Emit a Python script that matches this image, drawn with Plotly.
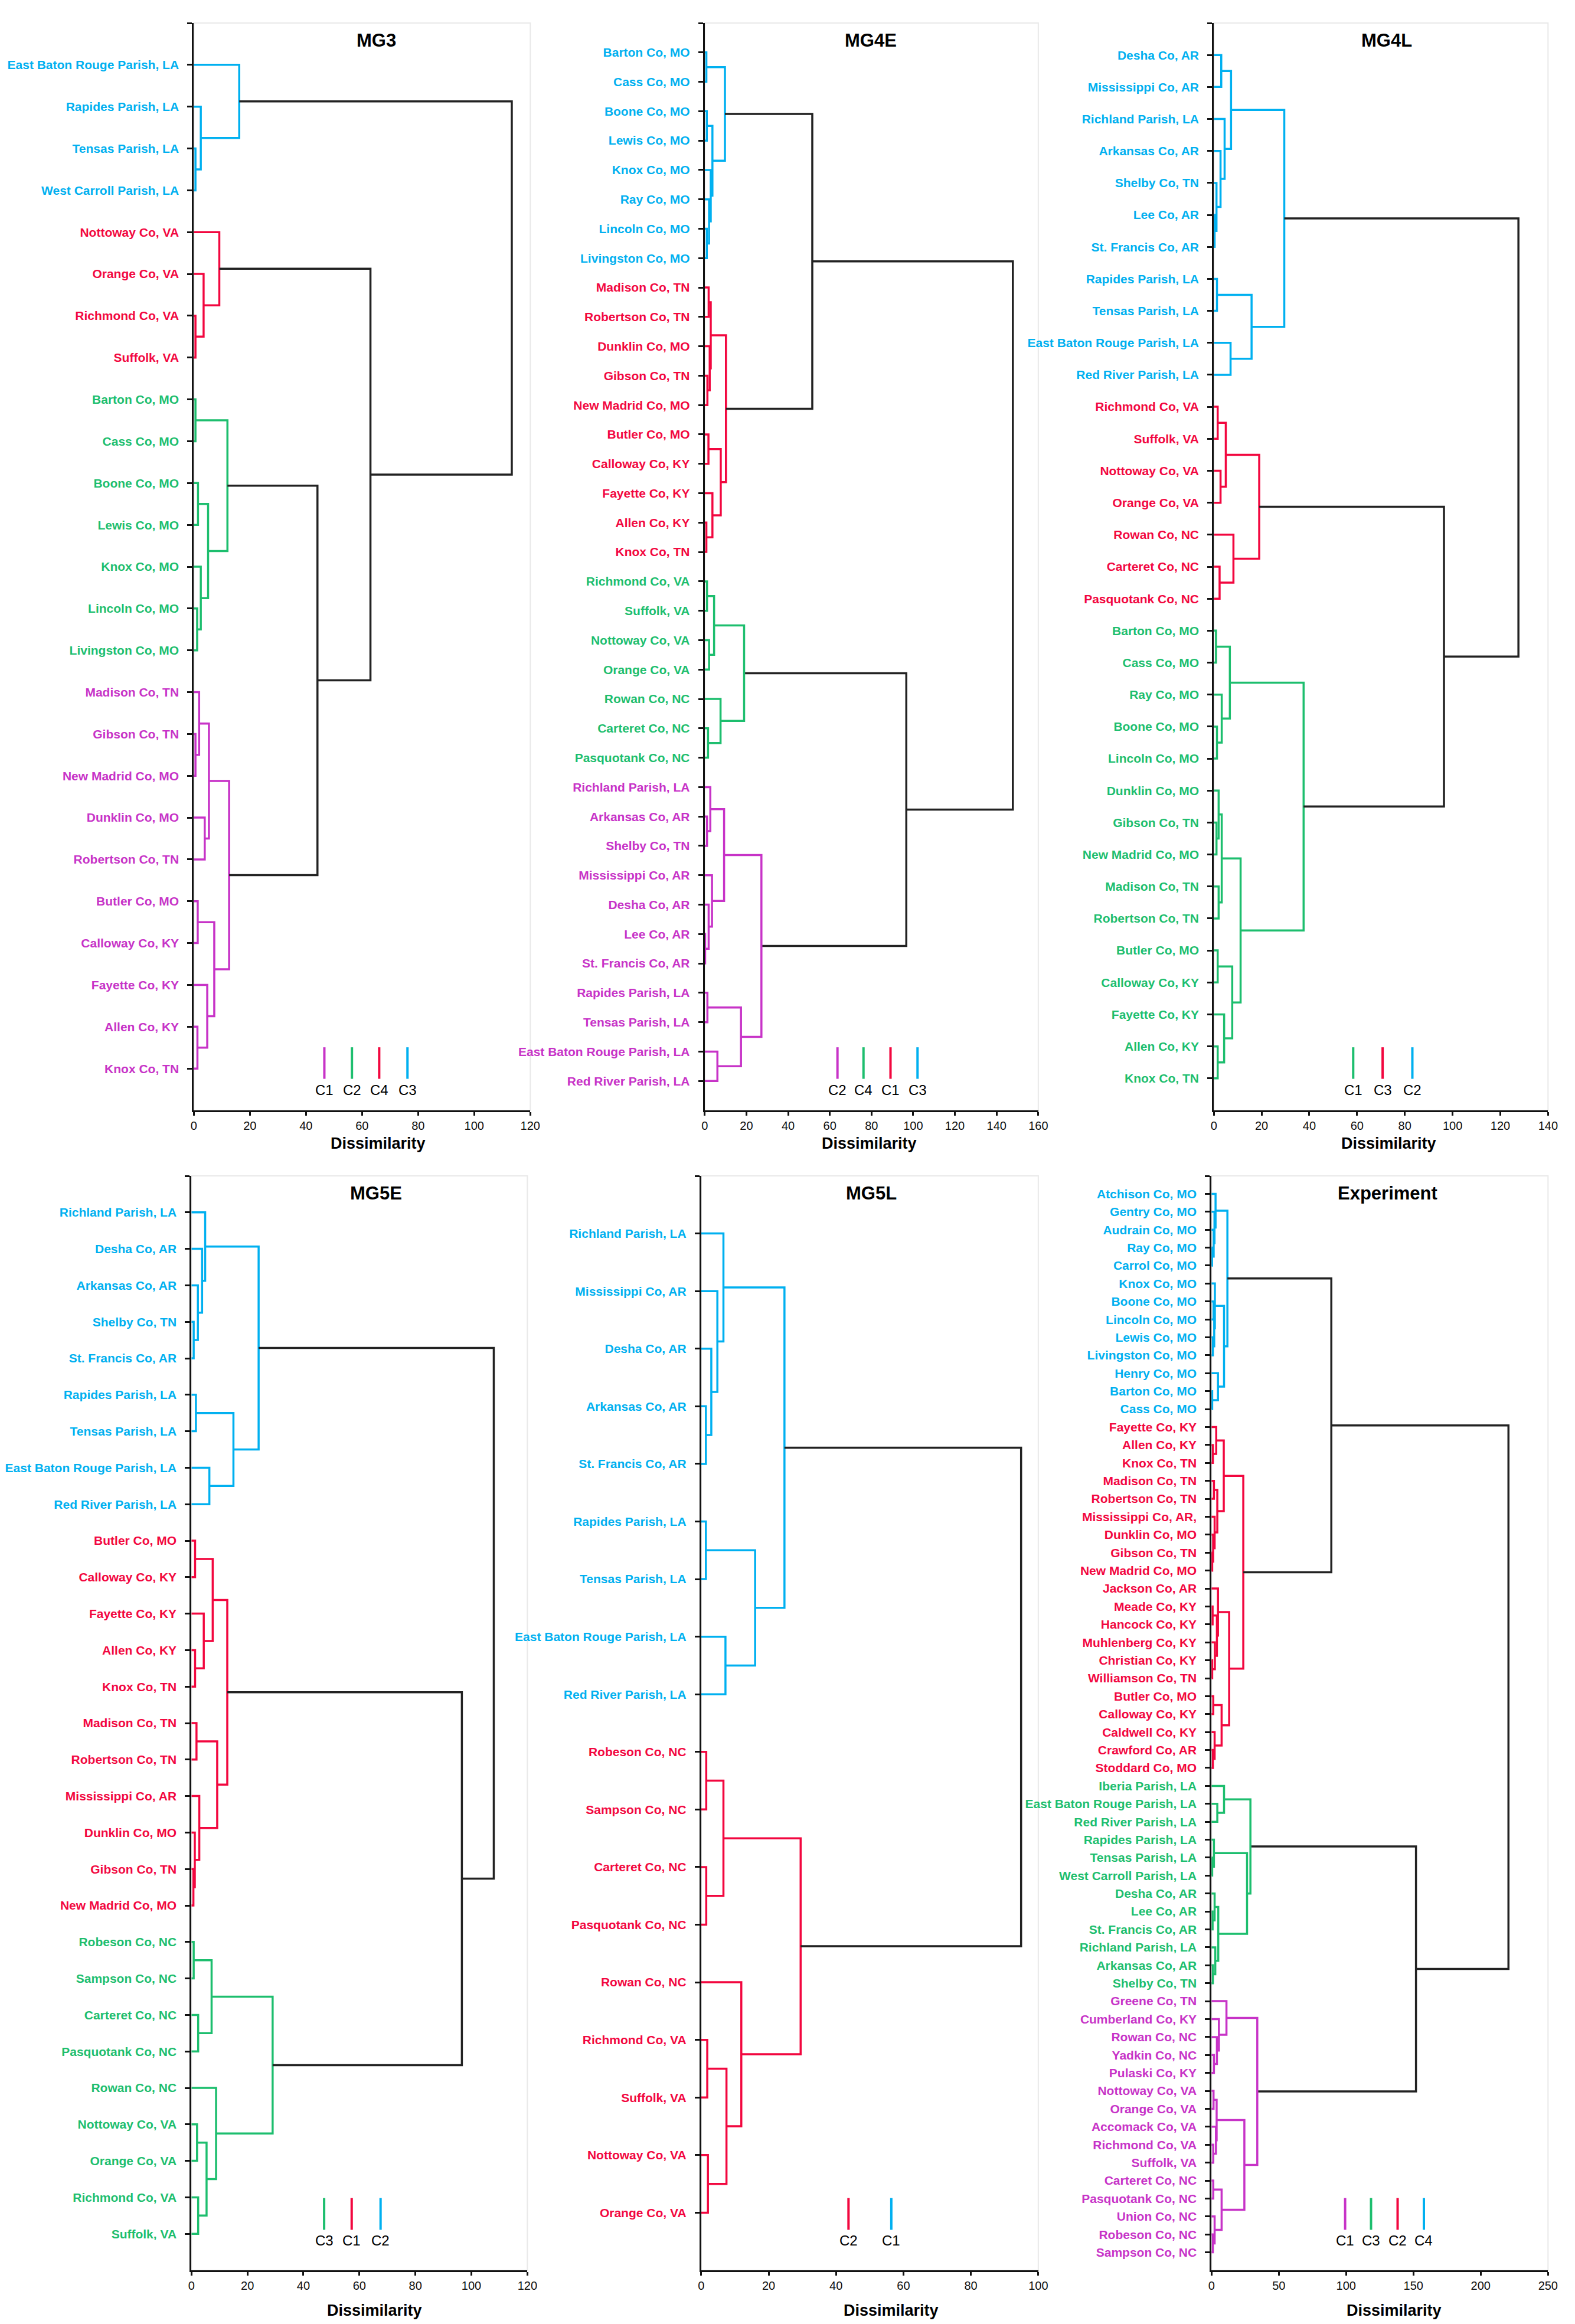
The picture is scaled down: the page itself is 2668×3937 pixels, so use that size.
import plotly.graph_objects as go

FONT = "Liberation Sans, Arial, Helvetica, sans-serif"
BLUE = "#00B0F0"
RED = "#F2073F"
GREEN = "#1DBE6E"
MAGENTA = "#C733C7"
BLACK = "#222222"

# ---------------- MG3 ----------------
MG3_LEAVES = ["East Baton Rouge Parish, LA", "Rapides Parish, LA", "Tensas Parish, LA",
              "West Carroll Parish, LA", "Nottoway Co, VA", "Orange Co, VA", "Richmond Co, VA",
              "Suffolk, VA", "Barton Co, MO", "Cass Co, MO", "Boone Co, MO", "Lewis Co, MO",
              "Knox Co, MO", "Lincoln Co, MO", "Livingston Co, MO", "Madison Co, TN",
              "Gibson Co, TN", "New Madrid Co, MO", "Dunklin Co, MO", "Robertson Co, TN",
              "Butler Co, MO", "Calloway Co, KY", "Fayette Co, KY", "Allen Co, KY", "Knox Co, TN"]
MG3_CLUSTERS = ["C3", "C3", "C3", "C3", "C4", "C4", "C4", "C4",
                "C2", "C2", "C2", "C2", "C2", "C2", "C2",
                "C1", "C1", "C1", "C1", "C1", "C1", "C1", "C1", "C1", "C1"]
MG3_TREE = [[0, [1, [2, 3, 0.6], 2.5], 16.2],
            [[4, [5, [6, 7, 0.6], 3.5], 9.1],
             [[[8, 9, 0.6], [[10, 11, 1.5], [12, [13, 14, 1.2], 2.5], 5.1], 12.0],
              [[[15, [16, 17, 0.6], 1.9], [18, 19, 3.9], 5.4],
               [[20, 21, 1.4], [22, [23, 24, 1.3], 4.8], 7.3], 12.6], 44.1], 63.0], 113.4]
MG3_COLORS = {"C1": MAGENTA, "C2": GREEN, "C3": BLUE, "C4": RED}
MG3_LEGEND = ["C1", "C2", "C4", "C3"]
MG3_XTICKS = [0, 20, 40, 60, 80, 100, 120]

# ---------------- MG4E ----------------
MG4E_LEAVES = ["Barton Co, MO", "Cass Co, MO", "Boone Co, MO", "Lewis Co, MO", "Knox Co, MO",
               "Ray Co, MO", "Lincoln Co, MO", "Livingston Co, MO", "Madison Co, TN",
               "Robertson Co, TN", "Dunklin Co, MO", "Gibson Co, TN", "New Madrid Co, MO",
               "Butler Co, MO", "Calloway Co, KY", "Fayette Co, KY", "Allen Co, KY", "Knox Co, TN",
               "Richmond Co, VA", "Suffolk, VA", "Nottoway Co, VA", "Orange Co, VA",
               "Rowan Co, NC", "Carteret Co, NC", "Pasquotank Co, NC", "Richland Parish, LA",
               "Arkansas Co, AR", "Shelby Co, TN", "Mississippi Co, AR", "Desha Co, AR",
               "Lee Co, AR", "St. Francis Co, AR", "Rapides Parish, LA", "Tensas Parish, LA",
               "East Baton Rouge Parish, LA", "Red River Parish, LA"]
MG4E_CLUSTERS = ["C3", "C3", "C3", "C3", "C3", "C3", "C3", "C3",
                 "C1", "C1", "C1", "C1", "C1", "C1", "C1", "C1", "C1", "C1",
                 "C4", "C4", "C4", "C4", "C4", "C4", "C4",
                 "C2", "C2", "C2", "C2", "C2", "C2", "C2", "C2", "C2", "C2", "C2"]
MG4E_BLUE = [[0, 1, 0.8], [[2, 3, 1.0], [4, [5, [6, 7, 1.0], 2.1], 2.9], 3.7], 9.7]
MG4E_RED = [[[8, 9, 1.9], [10, [11, 12, 1.3], 2.4], 2.9],
            [[13, 14, 1.8], [15, [16, 17, 0.8], 3.7], 7.7], 10.2]
MG4E_GREEN = [[[18, 19, 1.1], [20, 21, 2.1], 4.5], [22, [23, 24, 1.6], 7.6], 18.9]
MG4E_MAGENTA = [[[25, [26, 27, 1.1], 2.7], [28, [29, [30, 31, 0.2], 1.9], 3.5], 9.3],
                [[32, 33, 1.3], [34, 35, 6.1], 17.4], 27.2]
MG4E_TREE = [[MG4E_BLUE, MG4E_RED, 51.6], [MG4E_GREEN, MG4E_MAGENTA, 96.7], 147.8]
MG4E_COLORS = {"C1": RED, "C2": MAGENTA, "C3": BLUE, "C4": GREEN}
MG4E_LEGEND = ["C2", "C4", "C1", "C3"]
MG4E_XTICKS = [0, 20, 40, 60, 80, 100, 120, 140, 160]

# ---------------- MG4L ----------------
MG4L_LEAVES = ["Desha Co, AR", "Mississippi Co, AR", "Richland Parish, LA", "Arkansas Co, AR",
               "Shelby Co, TN", "Lee Co, AR", "St. Francis Co, AR", "Rapides Parish, LA",
               "Tensas Parish, LA", "East Baton Rouge Parish, LA", "Red River Parish, LA",
               "Richmond Co, VA", "Suffolk, VA", "Nottoway Co, VA", "Orange Co, VA",
               "Rowan Co, NC", "Carteret Co, NC", "Pasquotank Co, NC", "Barton Co, MO",
               "Cass Co, MO", "Ray Co, MO", "Boone Co, MO", "Lincoln Co, MO", "Dunklin Co, MO",
               "Gibson Co, TN", "New Madrid Co, MO", "Madison Co, TN", "Robertson Co, TN",
               "Butler Co, MO", "Calloway Co, KY", "Fayette Co, KY", "Allen Co, KY", "Knox Co, TN"]
MG4L_CLUSTERS = ["C2", "C2", "C2", "C2", "C2", "C2", "C2", "C2", "C2", "C2", "C2",
                 "C3", "C3", "C3", "C3", "C3", "C3", "C3",
                 "C1", "C1", "C1", "C1", "C1", "C1", "C1", "C1", "C1", "C1", "C1", "C1",
                 "C1", "C1", "C1"]
MG4L_BLUE = [[[0, 1, 3.1], [2, [3, [4, [5, 6, 0.3], 1.1], 2.8], 4.5], 7.2],
             [[7, 8, 1.3], [9, 10, 7.0], 15.8], 29.5]
MG4L_RED = [[[11, 12, 1.6], [13, 14, 2.8], 5.0], [15, [16, 17, 2.4], 8.2], 19.0]
MG4L_GREEN = [[[18, 19, 0.9], [20, [21, 22, 1.3], 3.3], 6.7],
              [[[23, [24, 25, 1.1], 2.0], [26, 27, 2.0], 3.3],
               [[28, 29, 1.6], [30, [31, 32, 1.6], 4.3], 7.7], 11.2], 37.6]
MG4L_TREE = [MG4L_BLUE, [MG4L_RED, MG4L_GREEN, 96.4], 127.6]
MG4L_COLORS = {"C1": GREEN, "C2": BLUE, "C3": RED}
MG4L_LEGEND = ["C1", "C3", "C2"]
MG4L_XTICKS = [0, 20, 40, 60, 80, 100, 120, 140]

# ---------------- MG5E ----------------
MG5E_LEAVES = ["Richland Parish, LA", "Desha Co, AR", "Arkansas Co, AR", "Shelby Co, TN",
               "St. Francis Co, AR", "Rapides Parish, LA", "Tensas Parish, LA",
               "East Baton Rouge Parish, LA", "Red River Parish, LA", "Butler Co, MO",
               "Calloway Co, KY", "Fayette Co, KY", "Allen Co, KY", "Knox Co, TN",
               "Madison Co, TN", "Robertson Co, TN", "Mississippi Co, AR", "Dunklin Co, MO",
               "Gibson Co, TN", "New Madrid Co, MO", "Robeson Co, NC", "Sampson Co, NC",
               "Carteret Co, NC", "Pasquotank Co, NC", "Rowan Co, NC", "Nottoway Co, VA",
               "Orange Co, VA", "Richmond Co, VA", "Suffolk, VA"]
MG5E_CLUSTERS = ["C2", "C2", "C2", "C2", "C2", "C2", "C2", "C2", "C2",
                 "C1", "C1", "C1", "C1", "C1", "C1", "C1", "C1", "C1", "C1", "C1",
                 "C3", "C3", "C3", "C3", "C3", "C3", "C3", "C3", "C3"]
MG5E_BLUE = [[0, [1, [2, [3, 4, 0.8], 2.3], 3.8], 4.9], [[5, 6, 1.6], [7, 8, 6.4], 15.0], 24.0]
MG5E_RED = [[[9, 10, 1.3], [11, [12, 13, 1.3], 4.4], 7.6],
            [[14, 15, 1.8], [16, [17, [18, 19, 0.7], 1.2], 2.8], 9.2], 12.8]
MG5E_GREEN = [[[20, 21, 0.8], [22, 23, 2.4], 7.2], [24, [[25, 26, 2.0], [27, 28, 2.4], 5.4], 8.8], 29.0]
MG5E_TREE = [MG5E_BLUE, [MG5E_RED, MG5E_GREEN, 96.6], 108.0]
MG5E_COLORS = {"C1": RED, "C2": BLUE, "C3": GREEN}
MG5E_LEGEND = ["C3", "C1", "C2"]
MG5E_XTICKS = [0, 20, 40, 60, 80, 100, 120]

# ---------------- MG5L ----------------
MG5L_LEAVES = ["Richland Parish, LA", "Mississippi Co, AR", "Desha Co, AR", "Arkansas Co, AR",
               "St. Francis Co, AR", "Rapides Parish, LA", "Tensas Parish, LA",
               "East Baton Rouge Parish, LA", "Red River Parish, LA", "Robeson Co, NC",
               "Sampson Co, NC", "Carteret Co, NC", "Pasquotank Co, NC", "Rowan Co, NC",
               "Richmond Co, VA", "Suffolk, VA", "Nottoway Co, VA", "Orange Co, VA"]
MG5L_CLUSTERS = ["C1", "C1", "C1", "C1", "C1", "C1", "C1", "C1", "C1",
                 "C2", "C2", "C2", "C2", "C2", "C2", "C2", "C2", "C2"]
MG5L_BLUE = [[0, [1, [2, [3, 4, 1.4], 3.0], 4.8], 6.6], [[5, 6, 1.4], [7, 8, 7.2], 16.0], 24.7]
MG5L_RED = [[[9, 10, 1.5], [11, 12, 1.5], 6.6], [13, [[14, 15, 1.8], [16, 17, 2.0], 7.5], 11.9], 29.5]
MG5L_TREE = [MG5L_BLUE, MG5L_RED, 94.9]
MG5L_COLORS = {"C1": BLUE, "C2": RED}
MG5L_LEGEND = ["C2", "C1"]
MG5L_XTICKS = [0, 20, 40, 60, 80, 100]

# ---------------- Experiment ----------------
EXP_LEAVES = ["Atchison Co, MO", "Gentry Co, MO", "Audrain Co, MO", "Ray Co, MO", "Carrol Co, MO",
              "Knox Co, MO", "Boone Co, MO", "Lincoln Co, MO", "Lewis Co, MO", "Livingston Co, MO",
              "Henry Co, MO", "Barton Co, MO", "Cass Co, MO", "Fayette Co, KY", "Allen Co, KY",
              "Knox Co, TN", "Madison Co, TN", "Robertson Co, TN", "Mississippi Co, AR,",
              "Dunklin Co, MO", "Gibson Co, TN", "New Madrid Co, MO", "Jackson Co, AR",
              "Meade Co, KY", "Hancock Co, KY", "Muhlenberg Co, KY", "Christian Co, KY",
              "Williamson Co, TN", "Butler Co, MO", "Calloway Co, KY", "Caldwell Co, KY",
              "Crawford Co, AR", "Stoddard Co, MO", "Iberia Parish, LA",
              "East Baton Rouge Parish, LA", "Red River Parish, LA", "Rapides Parish, LA",
              "Tensas Parish, LA", "West Carroll Parish, LA", "Desha Co, AR", "Lee Co, AR",
              "St. Francis Co, AR", "Richland Parish, LA", "Arkansas Co, AR", "Shelby Co, TN",
              "Greene Co, TN", "Cumberland Co, KY", "Rowan Co, NC", "Yadkin Co, NC",
              "Pulaski Co, KY", "Nottoway Co, VA", "Orange Co, VA", "Accomack Co, VA",
              "Richmond Co, VA", "Suffolk, VA", "Carteret Co, NC", "Pasquotank Co, NC",
              "Union Co, NC", "Robeson Co, NC", "Sampson Co, NC"]
EXP_CLUSTERS = ["C4", "C4", "C4", "C4", "C4", "C4", "C4", "C4", "C4", "C4", "C4", "C4", "C4",
                "C2", "C2", "C2", "C2", "C2", "C2", "C2", "C2", "C2", "C2",
                "C2", "C2", "C2", "C2", "C2", "C2", "C2", "C2", "C2", "C2",
                "C3", "C3", "C3", "C3", "C3", "C3", "C3", "C3", "C3", "C3", "C3", "C3",
                "C1", "C1", "C1", "C1", "C1", "C1", "C1", "C1", "C1", "C1", "C1", "C1",
                "C1", "C1", "C1"]
EXP_BLUE = [[0, [1, [2, [3, 4, 0.4], 1.6], 2.2], 3.0],
            [[5, [[6, 7, 1.5], [8, 9, 1.0], 2.0], 2.5], [10, [11, 12, 0.5], 4.8], 9.3], 11.8]
EXP_RED = [[[13, [14, 15, 1.0], 3.5], [[16, 17, 1.8], [18, [19, [20, 21, 0.5], 1.2], 2.3], 4.3], 9.1],
           [[22, [[23, 24, 0.8], [25, [26, 27, 0.5], 2.5], 4.0], 4.8],
            [[28, 29, 1.3], [30, [31, 32, 1.0], 2.3], 7.5], 13.1], 23.6]
EXP_GREEN = [[33, [34, 35, 4.3], 9.3],
             [[36, [37, 38, 0.5], 1.8], [[39, [40, 41, 0.8], 2.3], [42, [43, 44, 1.0], 2.8], 5.0], 26.4], 28.9]
EXP_MAGENTA = [[45, [46, [47, [48, 49, 1.8], 4.0], 5.5], 11.1],
               [[[50, 51, 1.5], [52, [53, 54, 1.3], 3.3], 3.8],
                [[55, 56, 1.3], [57, [58, 59, 1.0], 2.3], 7.5], 24.4], 34.0]
EXP_TREE = [[EXP_BLUE, EXP_RED, 89.0], [EXP_GREEN, EXP_MAGENTA, 151.9], 220.6]
EXP_COLORS = {"C1": MAGENTA, "C2": RED, "C3": GREEN, "C4": BLUE}
EXP_LEGEND = ["C1", "C3", "C2", "C4"]
EXP_XTICKS = [0, 50, 100, 150, 200, 250]

W, H = 2668, 3937
TOP_ROW = (1 - 1873 / H, 1 - 31 / H)
BOT_ROW = (1 - 3838 / H, 1 - 1984 / H)

PANELS = [
    dict(title="MG3", leaves=MG3_LEAVES, clusters=MG3_CLUSTERS, tree=MG3_TREE, colors=MG3_COLORS,
         legend=MG3_LEGEND, xticks=MG3_XTICKS, px=(317, 892), row=TOP_ROW, title_x=0.542,
         leg_x=[0.388, 0.470, 0.551, 0.635], lab_x=0.547, lab_y=1 - 1929 / H),
    dict(title="MG4E", leaves=MG4E_LEAVES, clusters=MG4E_CLUSTERS, tree=MG4E_TREE, colors=MG4E_COLORS,
         legend=MG4E_LEGEND, xticks=MG4E_XTICKS, px=(1190, 1760), row=TOP_ROW, title_x=0.498,
         leg_x=[0.398, 0.476, 0.557, 0.638], lab_x=0.493, lab_y=1 - 1929 / H),
    dict(title="MG4L", leaves=MG4L_LEAVES, clusters=MG4L_CLUSTERS, tree=MG4L_TREE, colors=MG4L_COLORS,
         legend=MG4L_LEGEND, xticks=MG4L_XTICKS, px=(2060, 2631), row=TOP_ROW, title_x=0.518,
         leg_x=[0.417, 0.505, 0.594], lab_x=0.524, lab_y=1 - 1929 / H),
    dict(title="MG5E", leaves=MG5E_LEAVES, clusters=MG5E_CLUSTERS, tree=MG5E_TREE, colors=MG5E_COLORS,
         legend=MG5E_LEGEND, xticks=MG5E_XTICKS, px=(313, 887), row=BOT_ROW, title_x=0.55,
         leg_x=[0.395, 0.477, 0.563], lab_x=0.545, lab_y=1 - 3906 / H),
    dict(title="MG5L", leaves=MG5L_LEAVES, clusters=MG5L_CLUSTERS, tree=MG5L_TREE, colors=MG5L_COLORS,
         legend=MG5L_LEGEND, xticks=MG5L_XTICKS, px=(1184, 1760), row=BOT_ROW, title_x=0.505,
         leg_x=[0.437, 0.564], lab_x=0.564, lab_y=1 - 3906 / H),
    dict(title="Experiment", leaves=EXP_LEAVES, clusters=EXP_CLUSTERS, tree=EXP_TREE, colors=EXP_COLORS,
         legend=EXP_LEGEND, xticks=EXP_XTICKS, px=(2056, 2631), row=BOT_ROW, title_x=0.524,
         leg_x=[0.397, 0.474, 0.553, 0.631], lab_x=0.543, lab_y=1 - 3906 / H),
]


def walk(node, clusters, colors, segs):
    """Return (leaf-axis position, height, cluster) and collect U-shaped links."""
    if isinstance(node, int):
        return node + 1, 0.0, clusters[node]
    a, b, h = node
    ya, ha, ca = walk(a, clusters, colors, segs)
    yb, hb, cb = walk(b, clusters, colors, segs)
    same = ca is not None and ca == cb
    col = colors[ca] if same else BLACK
    xs, ys = segs.setdefault(col, ([], []))
    xs.extend([ha, h, h, hb, None])
    ys.extend([ya, ya, yb, yb, None])
    return (ya + yb) / 2, h, (ca if same else None)


fig = go.Figure()
layout = dict(width=W, height=H, margin=dict(l=0, r=0, t=0, b=0),
              paper_bgcolor="white", plot_bgcolor="white", showlegend=False,
              font=dict(family=FONT, color="black"))
shapes, annotations = [], []

for i, p in enumerate(PANELS, start=1):
    sfx = "" if i == 1 else str(i)
    xa, ya = "x" + sfx, "y" + sfx
    n = len(p["leaves"])
    segs = {}
    walk(p["tree"], p["clusters"], p["colors"], segs)
    for col, (xs, ys) in segs.items():
        fig.add_trace(go.Scatter(x=xs, y=ys, mode="lines", xaxis=xa, yaxis=ya,
                                 line=dict(color=col, width=3.5), hoverinfo="skip",
                                 showlegend=False))
    ticktext = [""] + [f"<span style='color:{p['colors'][c]}'><b>{name}</b></span>"
                       for name, c in zip(p["leaves"], p["clusters"])]
    tickvals = [0] + [k + 1 for k in range(n)]
    layout["xaxis" + sfx] = dict(
        domain=[p["px"][0] / W, p["px"][1] / W], anchor=ya, range=[0, p["xticks"][-1]],
        tickvals=p["xticks"], showgrid=False, zeroline=False, showline=True,
        linecolor="#111111", linewidth=3, ticks="outside", ticklen=6, tickwidth=3,
        tickcolor="#111111", tickfont=dict(size=20, color="#111111"), ticklabelstandoff=0,
        fixedrange=True)
    layout["yaxis" + sfx] = dict(
        domain=list(p["row"]), anchor=xa, range=[n + 1, 0], tickvals=tickvals,
        ticktext=ticktext, showgrid=False, zeroline=False, showline=True,
        linecolor="#111111", linewidth=3, ticks="outside", ticklen=8, tickwidth=3,
        tickcolor="#111111", tickfont=dict(size=21), ticklabelstandoff=10, fixedrange=True)
    # faint frame around plot area
    shapes.append(dict(type="rect", xref=xa + " domain", yref=ya + " domain",
                       x0=0, x1=1, y0=0, y1=1, line=dict(color="#e9e9e9", width=2),
                       layer="below"))
    # panel title
    annotations.append(dict(text=f"<b>{p['title']}</b>", xref=xa + " domain", yref=ya + " domain",
                            x=p["title_x"], y=0.984, xanchor="center", yanchor="middle",
                            showarrow=False, font=dict(size=31, color="black")))
    # x-axis title
    annotations.append(dict(text="<b>Dissimilarity</b>", xref=xa + " domain", yref="paper",
                            x=p["lab_x"], y=p["lab_y"], xanchor="center", yanchor="middle",
                            showarrow=False, font=dict(size=27, color="black")))
    # cluster key
    top_row = p["row"] is TOP_ROW
    y0, y1, yl = (0.029, 0.058, 0.019) if top_row else (0.037, 0.066, 0.027)
    for lx, c in zip(p["leg_x"], p["legend"]):
        shapes.append(dict(type="line", xref=xa + " domain", yref=ya + " domain",
                           x0=lx, x1=lx, y0=y0, y1=y1,
                           line=dict(color=p["colors"][c], width=4)))
        annotations.append(dict(text=c, xref=xa + " domain", yref=ya + " domain",
                                x=lx, y=yl, xanchor="center", yanchor="middle",
                                showarrow=False, font=dict(size=24, color="black")))

layout["shapes"] = shapes
layout["annotations"] = annotations
fig.update_layout(**layout)
fig.write_html("out.html")
